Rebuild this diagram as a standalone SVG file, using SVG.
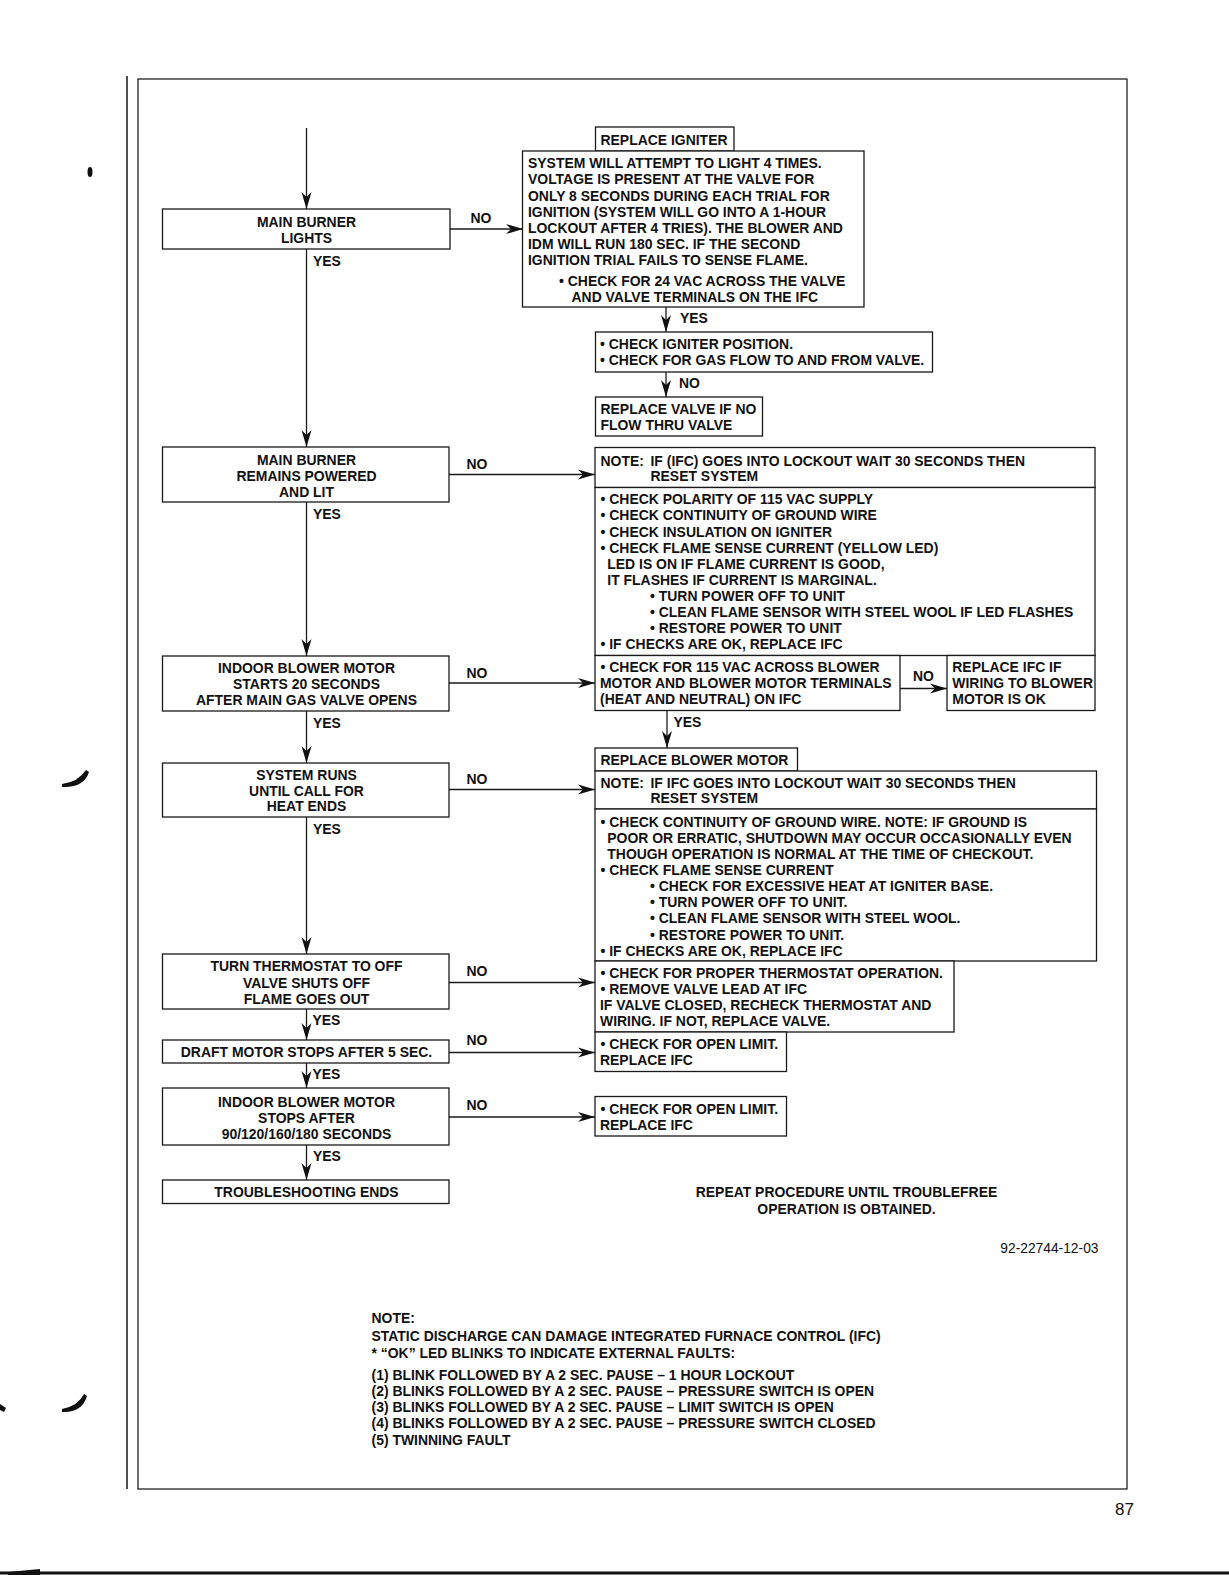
<svg xmlns="http://www.w3.org/2000/svg" width="1229" height="1584" viewBox="0 0 1229 1584">
<style>
.box{fill:#fff;stroke:#1a1a1a;stroke-width:1.3}
.conn{stroke:#1a1a1a;stroke-width:1.3;fill:none}
.t{font-family:'Liberation Sans',Arial,Helvetica,sans-serif;font-weight:bold;font-size:13.95px;fill:#111}
.c{text-anchor:middle}
.r{font-family:'Liberation Sans',Arial,Helvetica,sans-serif;font-weight:normal;fill:#111}
.frame{fill:none;stroke:#222;stroke-width:1.3}
</style>
<defs>
<marker id="ah" markerUnits="userSpaceOnUse" markerWidth="22" markerHeight="14" viewBox="-18 -7 19 14" refX="0" refY="0" orient="auto">
<path d="M0,0 L-17,-5 L-12,0 L-17,5 Z" fill="#111"/>
</marker>
</defs>
<rect width="1229" height="1584" fill="#fff"/>

<!-- page frame -->
<g id="page">
<line x1="127" y1="76" x2="127" y2="1489" stroke="#222" stroke-width="1.6"/>
<rect class="frame" x="138" y="79" width="989" height="1410"/>
<line x1="0" y1="1573" x2="1229" y2="1573" stroke="#111" stroke-width="3"/>
<path d="M8,1572 L40,1569 L40,1575 L8,1575 Z" fill="#111"/>
<ellipse cx="90" cy="172" rx="2.5" ry="5" fill="#111"/>
<path d="M62,784 Q78,782 86,770 L89,772 Q84,788 62,787 Z" fill="#111"/>
<path d="M62,1409 Q78,1406 84,1394 L87,1396 Q82,1413 62,1412 Z" fill="#111"/>
<path d="M0,1404 L6,1408 L4,1412 L0,1410 Z" fill="#111"/>
</g>

<!-- connectors -->
<g id="connectors">
<line class="conn" x1="306.5" y1="128" x2="306.5" y2="209" marker-end="url(#ah)"/>
<line class="conn" x1="306.5" y1="249" x2="306.5" y2="447" marker-end="url(#ah)"/>
<line class="conn" x1="306.5" y1="502" x2="306.5" y2="656" marker-end="url(#ah)"/>
<line class="conn" x1="306.5" y1="711" x2="306.5" y2="763" marker-end="url(#ah)"/>
<line class="conn" x1="306.5" y1="817" x2="306.5" y2="954" marker-end="url(#ah)"/>
<line class="conn" x1="306.5" y1="1009" x2="306.5" y2="1040" marker-end="url(#ah)"/>
<line class="conn" x1="306.5" y1="1063" x2="306.5" y2="1088" marker-end="url(#ah)"/>
<line class="conn" x1="306.5" y1="1145" x2="306.5" y2="1180" marker-end="url(#ah)"/>

<line class="conn" x1="450" y1="229" x2="523" y2="229" marker-end="url(#ah)"/>
<line class="conn" x1="449" y1="474.5" x2="595" y2="474.5" marker-end="url(#ah)"/>
<line class="conn" x1="449" y1="683" x2="595" y2="683" marker-end="url(#ah)"/>
<line class="conn" x1="449" y1="789.5" x2="595" y2="789.5" marker-end="url(#ah)"/>
<line class="conn" x1="449" y1="982.5" x2="595" y2="982.5" marker-end="url(#ah)"/>
<line class="conn" x1="449" y1="1052.5" x2="595" y2="1052.5" marker-end="url(#ah)"/>
<line class="conn" x1="449" y1="1117" x2="595" y2="1117" marker-end="url(#ah)"/>

<line class="conn" x1="666" y1="307" x2="666" y2="332" marker-end="url(#ah)"/>
<line class="conn" x1="666" y1="372" x2="666" y2="397" marker-end="url(#ah)"/>
<line class="conn" x1="667" y1="711" x2="667" y2="748" marker-end="url(#ah)"/>
<line class="conn" x1="900" y1="688.5" x2="947" y2="688.5" marker-end="url(#ah)"/>

<text class="t" x="470.5" y="223">NO</text>
<text class="t" x="313" y="266">YES</text>
<text class="t" x="680" y="323">YES</text>
<text class="t" x="679" y="388">NO</text>
<text class="t" x="466.5" y="469">NO</text>
<text class="t" x="313" y="519">YES</text>
<text class="t" x="466.5" y="677.5">NO</text>
<text class="t" x="313" y="727.5">YES</text>
<text class="t" x="913" y="680.5">NO</text>
<text class="t" x="673.5" y="726.5">YES</text>
<text class="t" x="466.5" y="783.5">NO</text>
<text class="t" x="313" y="834">YES</text>
<text class="t" x="466.5" y="976">NO</text>
<text class="t" x="312.5" y="1025">YES</text>
<text class="t" x="466.5" y="1045">NO</text>
<text class="t" x="312.5" y="1078.5">YES</text>
<text class="t" x="466.5" y="1110">NO</text>
<text class="t" x="313" y="1160.5">YES</text>
</g>

<!-- left column -->
<g id="n_main_burner_lights">
<rect class="box" x="162.5" y="209" width="287.5" height="40"/>
<text class="t c" x="306.5" y="227">MAIN BURNER</text>
<text class="t c" x="306.5" y="242.5">LIGHTS</text>
</g>
<g id="n_remains_lit">
<rect class="box" x="162.5" y="447" width="286.5" height="55"/>
<text class="t c" x="306.5" y="464.5">MAIN BURNER</text>
<text class="t c" x="306.5" y="480.5">REMAINS POWERED</text>
<text class="t c" x="306.5" y="496.5">AND LIT</text>
</g>
<g id="n_blower_starts">
<rect class="box" x="162.5" y="656" width="286.5" height="55"/>
<text class="t c" x="306.5" y="672.5">INDOOR BLOWER MOTOR</text>
<text class="t c" x="306.5" y="688.5">STARTS 20 SECONDS</text>
<text class="t c" x="306.5" y="704.5">AFTER MAIN GAS VALVE OPENS</text>
</g>
<g id="n_system_runs">
<rect class="box" x="162.5" y="763" width="286.5" height="54"/>
<text class="t c" x="306.5" y="779.5">SYSTEM RUNS</text>
<text class="t c" x="306.5" y="795.5">UNTIL CALL FOR</text>
<text class="t c" x="306.5" y="811">HEAT ENDS</text>
</g>
<g id="n_thermostat_off">
<rect class="box" x="162.5" y="954" width="286.5" height="55"/>
<text class="t c" x="306.5" y="971">TURN THERMOSTAT TO OFF</text>
<text class="t c" x="306.5" y="987.5">VALVE SHUTS OFF</text>
<text class="t c" x="306.5" y="1003.5">FLAME GOES OUT</text>
</g>
<g id="n_draft_motor">
<rect class="box" x="162.5" y="1040" width="286.5" height="23"/>
<text class="t c" x="306.5" y="1057">DRAFT MOTOR STOPS AFTER 5 SEC.</text>
</g>
<g id="n_blower_stops">
<rect class="box" x="162.5" y="1088" width="286.5" height="57"/>
<text class="t c" x="306.5" y="1107">INDOOR BLOWER MOTOR</text>
<text class="t c" x="306.5" y="1123">STOPS AFTER</text>
<text class="t c" x="306.5" y="1139">90/120/160/180 SECONDS</text>
</g>
<g id="n_ends">
<rect class="box" x="162.5" y="1180" width="286.5" height="23.5"/>
<text class="t c" x="306.5" y="1197">TROUBLESHOOTING ENDS</text>
</g>

<!-- right column -->
<g id="n_replace_igniter">
<rect class="box" x="595.5" y="127" width="138.5" height="24"/>
<text class="t" x="600.5" y="145">REPLACE IGNITER</text>
</g>
<g id="n_attempt_light">
<rect class="box" x="522.5" y="151" width="341.5" height="156"/>
<text class="t" x="528" y="168.3">SYSTEM WILL ATTEMPT TO LIGHT 4 TIMES.</text>
<text class="t" x="528" y="184.4">VOLTAGE IS PRESENT AT THE VALVE FOR</text>
<text class="t" x="528" y="200.5">ONLY 8 SECONDS DURING EACH TRIAL FOR</text>
<text class="t" x="528" y="216.6">IGNITION (SYSTEM WILL GO INTO A 1-HOUR</text>
<text class="t" x="528" y="232.7">LOCKOUT AFTER 4 TRIES). THE BLOWER AND</text>
<text class="t" x="528" y="248.8">IDM WILL RUN 180 SEC. IF THE SECOND</text>
<text class="t" x="528" y="264.9">IGNITION TRIAL FAILS TO SENSE FLAME.</text>
<text class="t" x="559" y="285.7">• CHECK FOR 24 VAC ACROSS THE VALVE</text>
<text class="t" x="571.5" y="301.7">AND VALVE TERMINALS ON THE IFC</text>
</g>
<g id="n_igniter_position">
<rect class="box" x="595.5" y="332" width="337" height="40"/>
<text class="t" x="600" y="349.3">• CHECK IGNITER POSITION.</text>
<text class="t" x="600" y="365.3">• CHECK FOR GAS FLOW TO AND FROM VALVE.</text>
</g>
<g id="n_replace_valve">
<rect class="box" x="595.5" y="397" width="167" height="39"/>
<text class="t" x="600.5" y="413.5">REPLACE VALVE IF NO</text>
<text class="t" x="600.5" y="430">FLOW THRU VALVE</text>
</g>
<g id="n_note_ifc_lockout">
<rect class="box" x="595" y="447.5" width="500" height="40"/>
<text class="t" x="600.5" y="465.5">NOTE:</text>
<text class="t" x="650.5" y="465.5">IF (IFC) GOES INTO LOCKOUT WAIT 30 SECONDS THEN</text>
<text class="t" x="650.5" y="481">RESET SYSTEM</text>
</g>
<g id="n_checks_polarity">
<rect class="box" x="595" y="487.5" width="500" height="168"/>
<text class="t" x="600.5" y="504.3">• CHECK POLARITY OF 115 VAC SUPPLY</text>
<text class="t" x="600.5" y="520.4">• CHECK CONTINUITY OF GROUND WIRE</text>
<text class="t" x="600.5" y="536.5">• CHECK INSULATION ON IGNITER</text>
<text class="t" x="600.5" y="552.6">• CHECK FLAME SENSE CURRENT (YELLOW LED)</text>
<text class="t" x="607.3" y="568.7">LED IS ON IF FLAME CURRENT IS GOOD,</text>
<text class="t" x="607.3" y="584.8">IT FLASHES IF CURRENT IS MARGINAL.</text>
<text class="t" x="650" y="600.9">• TURN POWER OFF TO UNIT</text>
<text class="t" x="650" y="617">• CLEAN FLAME SENSOR WITH STEEL WOOL IF LED FLASHES</text>
<text class="t" x="650" y="633.1">• RESTORE POWER TO UNIT</text>
<text class="t" x="600.5" y="649.2">• IF CHECKS ARE OK, REPLACE IFC</text>
</g>
<g id="n_check_115_blower">
<rect class="box" x="595" y="655.5" width="305" height="55"/>
<text class="t" x="600.5" y="672.3">• CHECK FOR 115 VAC ACROSS BLOWER</text>
<text class="t" x="600" y="688.3">MOTOR AND BLOWER MOTOR TERMINALS</text>
<text class="t" x="600" y="704.3">(HEAT AND NEUTRAL) ON IFC</text>
</g>
<g id="n_replace_ifc_if">
<rect class="box" x="947" y="655.5" width="148" height="55"/>
<text class="t" x="952.3" y="672.3">REPLACE IFC IF</text>
<text class="t" x="952.3" y="688.3">WIRING TO BLOWER</text>
<text class="t" x="952.3" y="704.3">MOTOR IS OK</text>
</g>
<g id="n_replace_blower_motor">
<rect class="box" x="595" y="748" width="202.5" height="23"/>
<text class="t" x="600.5" y="765">REPLACE BLOWER MOTOR</text>
</g>
<g id="n_note_ifc_lockout2">
<rect class="box" x="595" y="771" width="501.5" height="38"/>
<text class="t" x="600.5" y="788.3">NOTE:</text>
<text class="t" x="650.5" y="788.3">IF IFC GOES INTO LOCKOUT WAIT 30 SECONDS THEN</text>
<text class="t" x="650.5" y="803.3">RESET SYSTEM</text>
</g>
<g id="n_checks_ground">
<rect class="box" x="595" y="809" width="501.5" height="152"/>
<text class="t" x="600.5" y="827.3">• CHECK CONTINUITY OF GROUND WIRE. NOTE: IF GROUND IS</text>
<text class="t" x="607.3" y="843.3">POOR OR ERRATIC, SHUTDOWN MAY OCCUR OCCASIONALLY EVEN</text>
<text class="t" x="607.3" y="859.3">THOUGH OPERATION IS NORMAL AT THE TIME OF CHECKOUT.</text>
<text class="t" x="600.5" y="875.3">• CHECK FLAME SENSE CURRENT</text>
<text class="t" x="650" y="891.4">• CHECK FOR EXCESSIVE HEAT AT IGNITER BASE.</text>
<text class="t" x="650" y="907.4">• TURN POWER OFF TO UNIT.</text>
<text class="t" x="650" y="923.4">• CLEAN FLAME SENSOR WITH STEEL WOOL.</text>
<text class="t" x="650" y="939.5">• RESTORE POWER TO UNIT.</text>
<text class="t" x="600.5" y="955.6">• IF CHECKS ARE OK, REPLACE IFC</text>
</g>
<g id="n_check_thermostat">
<rect class="box" x="595" y="961" width="359" height="71"/>
<text class="t" x="600.5" y="978.3">• CHECK FOR PROPER THERMOSTAT OPERATION.</text>
<text class="t" x="600.5" y="994.3">• REMOVE VALVE LEAD AT IFC</text>
<text class="t" x="600" y="1010.3">IF VALVE CLOSED, RECHECK THERMOSTAT AND</text>
<text class="t" x="600" y="1026.3">WIRING. IF NOT, REPLACE VALVE.</text>
</g>
<g id="n_open_limit1">
<rect class="box" x="595" y="1032" width="191.5" height="39.5"/>
<text class="t" x="600.5" y="1049.3">• CHECK FOR OPEN LIMIT.</text>
<text class="t" x="600" y="1065">REPLACE IFC</text>
</g>
<g id="n_open_limit2">
<rect class="box" x="595" y="1096.5" width="191.5" height="39.5"/>
<text class="t" x="600.5" y="1114">• CHECK FOR OPEN LIMIT.</text>
<text class="t" x="600" y="1130">REPLACE IFC</text>
</g>

<!-- free text -->
<g id="notes">
<text class="t c" x="846.5" y="1197.3">REPEAT PROCEDURE UNTIL TROUBLEFREE</text>
<text class="t c" x="846.5" y="1214">OPERATION IS OBTAINED.</text>
<text class="r" x="1098.5" y="1253.3" font-size="13.8" text-anchor="end">92-22744-12-03</text>
<text class="t" x="371.5" y="1323.3">NOTE:</text>
<text class="t" x="371.5" y="1340.7">STATIC DISCHARGE CAN DAMAGE INTEGRATED FURNACE CONTROL (IFC)</text>
<text class="t" x="371.5" y="1358.3">* “OK” LED BLINKS TO INDICATE EXTERNAL FAULTS:</text>
<text class="t" x="371.5" y="1380">(1) BLINK FOLLOWED BY A 2 SEC. PAUSE – 1 HOUR LOCKOUT</text>
<text class="t" x="371.5" y="1396">(2) BLINKS FOLLOWED BY A 2 SEC. PAUSE – PRESSURE SWITCH IS OPEN</text>
<text class="t" x="371.5" y="1412.2">(3) BLINKS FOLLOWED BY A 2 SEC. PAUSE – LIMIT SWITCH IS OPEN</text>
<text class="t" x="371.5" y="1428">(4) BLINKS FOLLOWED BY A 2 SEC. PAUSE – PRESSURE SWITCH CLOSED</text>
<text class="t" x="371.5" y="1445">(5) TWINNING FAULT</text>
<text class="r" x="1115" y="1515" font-size="17">87</text>
</g>
</svg>
